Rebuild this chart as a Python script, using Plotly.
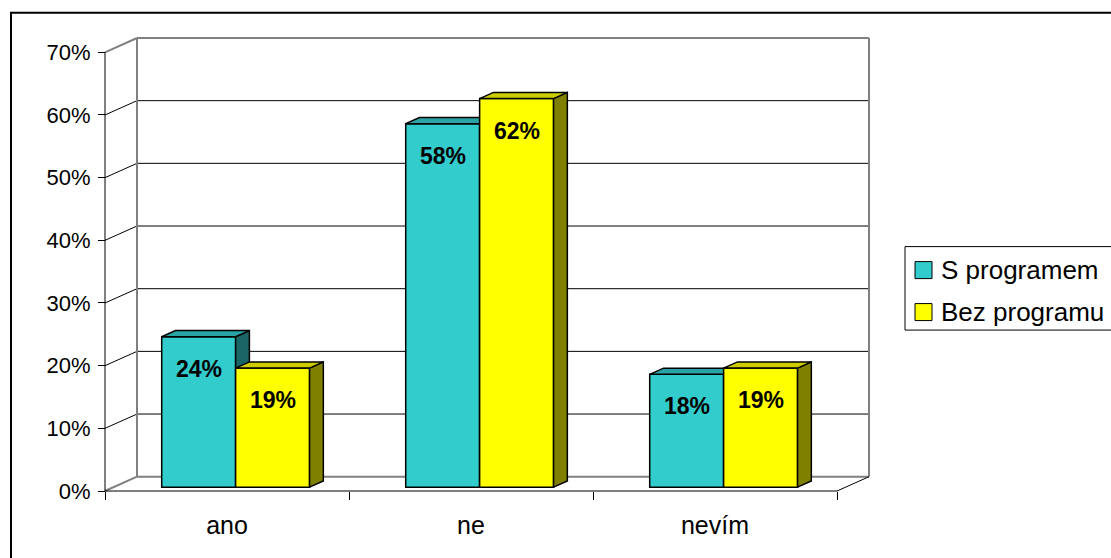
import plotly.graph_objects as go

# ---- data -------------------------------------------------------------
categories = ["ano", "ne", "nevím"]
series_names = ["S programem", "Bez programu"]
s_programem = [24, 58, 18]
bez_programu = [19, 62, 19]
y_tick_values = [0, 10, 20, 30, 40, 50, 60, 70]
y_tick_labels = ["0%", "10%", "20%", "30%", "40%", "50%", "60%", "70%"]

# ---- styling ----------------------------------------------------------
FONT = "Arial, 'Liberation Sans', sans-serif"
face_colors = [
    {"front": "#33CCCC", "top": "#29A3A3", "side": "#1A6666"},
    {"front": "#FFFF00", "top": "#CCCC00", "side": "#808000"},
]
WALL_GREY = "#808080"

# ---- geometry ---------------------------------------------------------
W, H = 1111, 558
PL, PB = 105, 491          # front-left / front-bottom corner of the plot (px)
XS = 244.0                 # px per category
YS = 6.27                  # px per percent
DEPTH_X = 32 / XS          # depth vector of the 3D box, in data units
DEPTH_Y = 14.3 / YS
Y_TOP = 70
N = len(categories)
X_MAX = N + DEPTH_X
Y_MAX = Y_TOP + DEPTH_Y
PAD = 12                   # keeps edge lines inside the clip area

BAR_W = 0.303              # width of one column (category units)
BAR_D0 = 0.27              # depth of the columns' front faces
BAR_T = 0.43               # column thickness in depth

plot_l = PL - PAD
plot_r = PL + X_MAX * XS + PAD
plot_b = PB + PAD
plot_t = PB - Y_MAX * YS - PAD
plot_w = plot_r - plot_l
plot_h = plot_b - plot_t


def fx(px):
    return (px - plot_l) / plot_w


def fy(py):
    return (plot_b - py) / plot_h


fig = go.Figure()

centers = [i + 0.5 for i in range(N)]
offsets = [-BAR_W, 0.0]
axes = [("x", "y"), ("x2", "y2")]
annotations = []

for s, values in enumerate([s_programem, bez_programu]):
    xa, ya = axes[s]
    col = face_colors[s]
    off = offsets[s] + BAR_D0 * DEPTH_X
    # front faces
    fig.add_trace(go.Bar(
        x=centers, y=values, base=BAR_D0 * DEPTH_Y, width=BAR_W, offset=off,
        marker=dict(color=col["front"], line=dict(color="black", width=1.5)),
        name=series_names[s], showlegend=False, hoverinfo="skip",
        xaxis=xa, yaxis=ya,
    ))
    ddx, ddy = BAR_T * DEPTH_X, BAR_T * DEPTH_Y
    for c, v in zip(centers, values):
        xl = c + off
        xr = xl + BAR_W
        yb = BAR_D0 * DEPTH_Y
        yt = v + BAR_D0 * DEPTH_Y
        side = ([xr, xr, xr + ddx, xr + ddx, xr], [yb, yt, yt + ddy, yb + ddy, yb])
        top = ([xl, xr, xr + ddx, xl + ddx, xl], [yt, yt, yt + ddy, yt + ddy, yt])
        for (px_, py_), fc in ((side, col["side"]), (top, col["top"])):
            fig.add_trace(go.Scatter(
                x=px_, y=py_, mode="lines", fill="toself", fillcolor=fc,
                line=dict(color="black", width=1.5), showlegend=False,
                hoverinfo="skip", xaxis=xa, yaxis=ya,
            ))
        annotations.append(dict(
            x=xl + BAR_W / 2, y=yt, xref="x", yref="y", yshift=-32,
            text=f"<b>{v}%</b>", showarrow=False, yanchor="middle",
            font=dict(family=FONT, size=23, color="black"),
        ))

# ---- walls, floor and grid ---------------------------------------------
shapes = []


def seg(x0, y0, x1, y1, color, width):
    shapes.append(dict(type="line", xref="x", yref="y", x0=x0, y0=y0, x1=x1, y1=y1,
                       line=dict(color=color, width=width), layer="below"))


for k in y_tick_values[1:-1]:
    seg(DEPTH_X, k + DEPTH_Y, N + DEPTH_X, k + DEPTH_Y, "black", 1)   # back wall
    seg(0, k, DEPTH_X, k + DEPTH_Y, "black", 1)                        # side wall
seg(DEPTH_X, DEPTH_Y, DEPTH_X, Y_MAX, WALL_GREY, 2)
seg(N + DEPTH_X, DEPTH_Y, N + DEPTH_X, Y_MAX, WALL_GREY, 2)
seg(DEPTH_X, Y_MAX, N + DEPTH_X, Y_MAX, WALL_GREY, 2)
seg(0, Y_TOP, DEPTH_X, Y_MAX, WALL_GREY, 2)
seg(DEPTH_X, DEPTH_Y, N + DEPTH_X, DEPTH_Y, WALL_GREY, 2)
seg(0, 0, DEPTH_X, DEPTH_Y, WALL_GREY, 2)
seg(N, 0, N + DEPTH_X, DEPTH_Y, "black", 1)
seg(0, 0, 0, Y_TOP, "black", 1)
seg(0, 0, N, 0, "black", 1)

# outer chart frame
shapes.append(dict(type="rect", xref="paper", yref="paper",
                   x0=fx(11), x1=fx(1130), y0=fy(580), y1=fy(12.5),
                   line=dict(color="black", width=2)))

# ---- legend -------------------------------------------------------------
shapes.append(dict(type="rect", xref="paper", yref="paper",
                   x0=fx(905), x1=fx(1130), y0=fy(330), y1=fy(246.5),
                   line=dict(color="black", width=1), fillcolor="white"))
for i, name in enumerate(series_names):
    cy = 270 + i * 42
    shapes.append(dict(type="rect", xref="paper", yref="paper",
                       x0=fx(915), x1=fx(932), y0=fy(cy + 8.5), y1=fy(cy - 8.5),
                       line=dict(color="black", width=1),
                       fillcolor=face_colors[i]["front"]))
    annotations.append(dict(x=fx(939), y=fy(cy), xref="paper", yref="paper",
                            xanchor="left", yanchor="middle", text=name,
                            showarrow=False,
                            font=dict(family=FONT, size=26, color="black")))

x_range = [-PAD / XS, X_MAX + PAD / XS]
y_range = [-PAD / YS, Y_MAX + PAD / YS]

fig.update_layout(
    width=W, height=H,
    margin=dict(l=plot_l, r=W - plot_r, t=plot_t, b=H - plot_b, autoexpand=False),
    paper_bgcolor="white", plot_bgcolor="white",
    showlegend=False, barmode="overlay",
    shapes=shapes, annotations=annotations,
    font=dict(family=FONT, color="black"),
    xaxis=dict(
        range=x_range, anchor="free", position=PAD / plot_h,
        tickmode="array", tickvals=centers, ticktext=categories,
        ticks="outside", ticklen=8, tickcolor="rgba(0,0,0,0)",
        ticklabelstandoff=4,
        minor=dict(tickmode="array", tickvals=list(range(N + 1)), ticks="outside",
                   ticklen=8, tickwidth=1, tickcolor="black", showgrid=False),
        tickfont=dict(family=FONT, size=25, color="black"),
        showgrid=False, zeroline=False, showline=False, fixedrange=True,
    ),
    yaxis=dict(
        range=y_range, anchor="free", position=PAD / plot_w,
        tickmode="array", tickvals=y_tick_values, ticktext=y_tick_labels,
        ticks="outside", ticklen=7, tickwidth=1, tickcolor="black",
        ticklabelstandoff=3,
        tickfont=dict(family=FONT, size=22, color="black"),
        showgrid=False, zeroline=False, showline=False, fixedrange=True,
    ),
    xaxis2=dict(range=x_range, overlaying="x", anchor="y2", visible=False,
                fixedrange=True),
    yaxis2=dict(range=y_range, overlaying="y", anchor="x2", visible=False,
                fixedrange=True),
)

fig.write_html("out.html", config={"displayModeBar": False})
